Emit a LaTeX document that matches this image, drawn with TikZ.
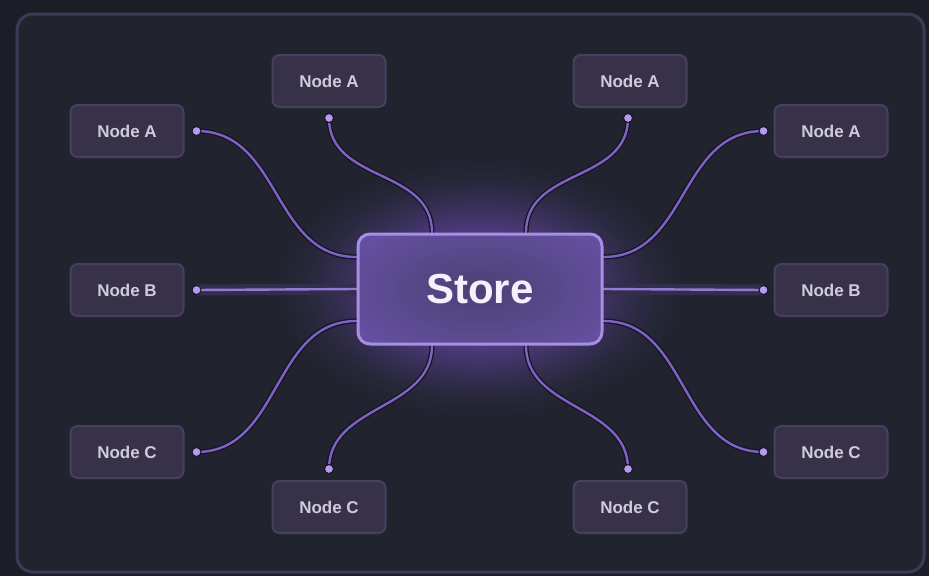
\documentclass[tikz,border=0pt]{standalone}
\usepackage{fontspec}
\setmainfont{Liberation Sans}
\usetikzlibrary{calc}
\definecolor{bgout}{HTML}{1B1E27}
\definecolor{bgpanel}{HTML}{21242F}
\definecolor{panelborder}{HTML}{3A3C55}
\definecolor{nodefill}{HTML}{37324A}
\definecolor{nodeborder}{HTML}{45405E}
\definecolor{nodetext}{HTML}{CFCBDC}
\definecolor{storefill}{HTML}{6450A0}
\definecolor{storecenter}{HTML}{4B4174}
\definecolor{storeborder}{HTML}{A88EE4}
\definecolor{glow}{HTML}{7A52D0}
\definecolor{wire}{HTML}{7E62C6}
\definecolor{wiredark}{HTML}{16141F}
\definecolor{dotc}{HTML}{B898F2}
\definecolor{bband}{HTML}{332E4E}
\colorlet{g60}{glow!60!bgpanel}
\colorlet{g50}{glow!50!bgpanel}
\colorlet{g35}{glow!32!bgpanel}
\colorlet{g18}{glow!15!bgpanel}
\colorlet{g6}{glow!5!bgpanel}
\pgfdeclareradialshading{glowshade}{\pgfpoint{0bp}{0bp}}{color(0bp)=(g60); color(11bp)=(g50); color(15bp)=(g35); color(19bp)=(g18); color(22bp)=(g6); color(25bp)=(bgpanel); color(50bp)=(bgpanel)}
\tikzset{
  leaf/.style={draw=nodeborder, line width=2pt, fill=nodefill, rounded corners=7pt,
    minimum width=113pt, minimum height=52pt, inner sep=0pt,
    text=nodetext, font=\fontsize{17}{20}\selectfont\bfseries},
  storebox/.style={draw=storeborder, line width=3pt, rounded corners=12pt,
    minimum width=244pt, minimum height=110pt, inner sep=0pt,
    text=white!88!storeborder, font=\fontsize{42}{48}\selectfont\bfseries},
  wireunder/.style={draw=wiredark, line width=5pt, line cap=round},
  wiretop/.style={draw=wire, line width=2.4pt, line cap=round},
  dotmark/.style={circle, fill=dotc, draw=wiredark, line width=1pt, minimum size=9pt, inner sep=0pt}
}
\begin{document}
\begin{tikzpicture}[x=1pt,y=-1pt]
\useasboundingbox (0,0) rectangle (929,576);
\fill[bgout] (0,0) rectangle (929,576);
\draw[draw=panelborder, line width=3pt, fill=bgpanel, rounded corners=16pt] (17,14) rectangle (924,572);

% glow
\shade[shading=glowshade] (480,289) ellipse [x radius=205pt, y radius=128pt];

% leaf nodes
\node[leaf] (a1) at (127,131) {Node A};
\node[leaf] (a2) at (329,81) {Node A};
\node[leaf] (a3) at (630,81) {Node A};
\node[leaf] (a4) at (831,131) {Node A};
\node[leaf] (b1) at (127,290) {Node B};
\node[leaf] (b2) at (831,290) {Node B};
\node[leaf] (c1) at (127,452) {Node C};
\node[leaf] (c2) at (329,507) {Node C};
\node[leaf] (c3) at (630,507) {Node C};
\node[leaf] (c4) at (831,452) {Node C};

% dot positions
\coordinate (da1) at ($(a1.east)+(12,0)$);
\coordinate (da2) at ($(a2.south)+(0,10)$);
\coordinate (da3) at ($(a3.south)+(-2,10)$);
\coordinate (da4) at ($(a4.west)+(-10,0)$);
\coordinate (db1) at ($(b1.east)+(12,0)$);
\coordinate (db2) at ($(b2.west)+(-10,0)$);
\coordinate (dc1) at ($(c1.east)+(12,0)$);
\coordinate (dc2) at ($(c2.north)+(0,-11)$);
\coordinate (dc3) at ($(c3.north)+(-2,-11)$);
\coordinate (dc4) at ($(c4.west)+(-10,0)$);

% store node placeholder for anchors
\node[storebox, draw=none, text opacity=0] (s) at (480,289) {Store};
\coordinate (sa1) at ($(s.west)+(0,-32)$);
\coordinate (sc1) at ($(s.west)+(0,32)$);
\coordinate (sa4) at ($(s.east)+(0,-32)$);
\coordinate (sc4) at ($(s.east)+(0,32)$);
\coordinate (sa2) at ($(s.north)+(-48,0)$);
\coordinate (sa3) at ($(s.north)+(46,0)$);
\coordinate (sc2) at ($(s.south)+(-48,0)$);
\coordinate (sc3) at ($(s.south)+(46,0)$);

% B bands
\draw[draw=bband, line width=11pt] (db1) -- (s.west);
\draw[draw=bband, line width=11pt] (s.east) -- (db2);

% curved wires
\foreach \d/\e/\cx/\cy in {da1/sa1/85/0, dc1/sc1/85/0, da4/sa4/-85/0, dc4/sc4/-85/0,
  da2/sa2/0/65, da3/sa3/0/65, dc2/sc2/0/-65, dc3/sc3/0/-65}{
  \draw[wireunder] (\d) .. controls +(\cx,\cy) and +(-\cx,-\cy) .. (\e);
  \draw[wiretop] (\d) .. controls +(\cx,\cy) and +(-\cx,-\cy) .. (\e);
}
\draw[wiretop, draw=wire!85!white] (db1) -- (s.west);
\draw[wiretop, draw=wire!85!white] (s.east) -- (db2);

% store
\node[storebox, path picture={
  \fill[storefill] (path picture bounding box.south west) rectangle (path picture bounding box.north east);
  \shade[inner color=storecenter, outer color=storefill]
    ($(path picture bounding box.center)+(-150,-75)$) rectangle ($(path picture bounding box.center)+(150,75)$);
}] (store) at (480,289) {Store};

% dots
\foreach \p in {da1,da2,da3,da4,db1,db2,dc1,dc2,dc3,dc4}{
  \node[dotmark] at (\p) {};
}
\end{tikzpicture}
\end{document}
